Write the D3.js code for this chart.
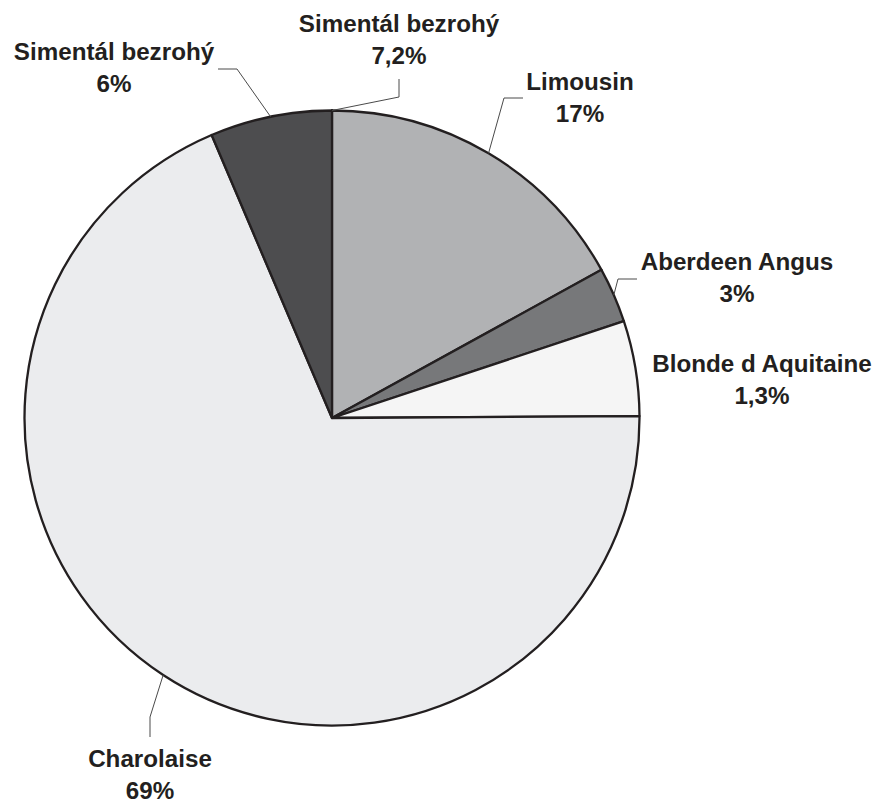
<!DOCTYPE html>
<html lang="en">
<head>
  <meta charset="utf-8" />
  <title>Plemena - koláčový graf</title>
  <script src="https://d3js.org/d3.v7.min.js"></script>
  <style>
    html, body {
      margin: 0;
      padding: 0;
      background: #fff;
      overflow: hidden;
    }
    .label text {
      font-family: "Liberation Sans", Arial, sans-serif;
      font-weight: bold;
      font-size: 24.2px;
      fill: #231f20;
      text-anchor: middle;
    }
    .leader {
      fill: none;
      stroke: #4a4a4a;
      stroke-width: 1px;
    }
  </style>
</head>
<body>
<script>
// data, clockwise from 12 o'clock
const breeds = ["Simentál bezrohý", "Limousin", "Aberdeen Angus", "Blonde d Aquitaine", "Charolaise", "Simentál bezrohý"];
const shares = [0, 17, 2.9, 5, 68.7, 6.4];           // slice sizes
const shareLabels = ["7,2%", "17%", "3%", "1,3%", "69%", "6%"];
const fills = ["#b1b2b4", "#b1b2b4", "#77787a", "#f5f5f5", "#ebecee", "#4d4d4f"];

// label layout: text centre, first baseline, leader elbow and end (null = no leader)
const labelLayout = [
  { x: 399, y: 32,  elbow: [399, 97],  end: [399, 79] },
  { x: 580, y: 90,  elbow: [504, 98],  end: [523, 98] },
  { x: 737, y: 270, elbow: [618, 279], end: [637, 279] },
  { x: 762, y: 372, elbow: null,       end: null },
  { x: 150, y: 767, elbow: [150, 717], end: [150, 737] },
  { x: 114, y: 60,  elbow: [237, 69],  end: [218, 69] }
];

const width = 878, height = 805;
const cx = 332, cy = 418, radius = 307.5;

const svg = d3.select("body").append("svg")
  .attr("width", width)
  .attr("height", height);

const pie = d3.pie().sort(null).value(d => d);
const arcs = pie(shares);
const arc = d3.arc().innerRadius(0).outerRadius(radius);

const g = svg.append("g").attr("transform", `translate(${cx},${cy})`);

g.selectAll("path.slice")
  .data(arcs)
  .enter().append("path")
  .attr("class", "slice")
  .attr("d", arc)
  .attr("fill", (d, i) => fills[i])
  .attr("stroke", "#231f20")
  .attr("stroke-width", 2.3)
  .attr("stroke-linejoin", "round");

// leader lines start on the rim at the slice mid-angle
const leaders = svg.append("g");
arcs.forEach((a, i) => {
  const L = labelLayout[i];
  if (!L.elbow) return;
  const mid = (a.startAngle + a.endAngle) / 2;
  const start = [cx + radius * Math.sin(mid), cy - radius * Math.cos(mid)];
  leaders.append("path")
    .attr("class", "leader")
    .attr("d", d3.line()([start, L.elbow, L.end]));
});

const labels = svg.append("g").attr("class", "label");
labelLayout.forEach((L, i) => {
  const t = labels.append("text").attr("x", L.x).attr("y", L.y);
  t.append("tspan").attr("x", L.x).text(breeds[i]);
  t.append("tspan").attr("x", L.x).attr("dy", 32).text(shareLabels[i]);
});
</script>
</body>
</html>
